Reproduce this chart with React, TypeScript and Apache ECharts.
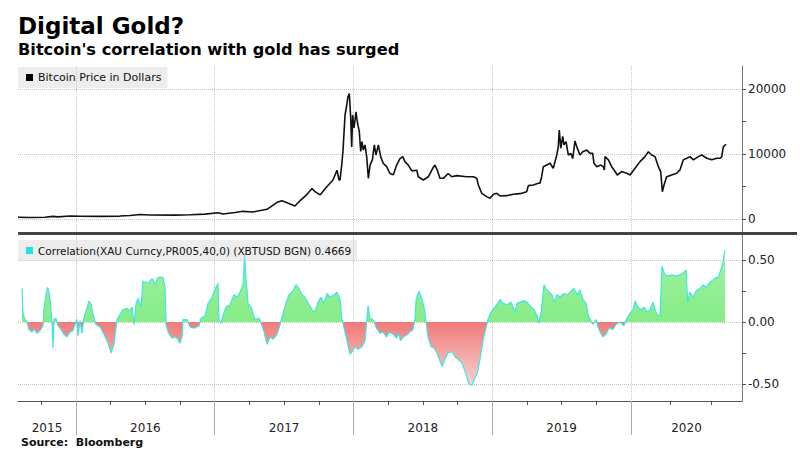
import React, { useEffect, useRef } from 'react';
import * as echarts from 'echarts';

// x values are decimal years
const X_MIN = 2015.582;
const X_MAX = 2020.8;

const yearBoundaries = [2016, 2017, 2018, 2019, 2020];
const quarterTicks = [2015.75, 2016.25, 2016.5, 2016.75, 2017.25, 2017.5, 2017.75, 2018.25, 2018.5, 2018.75, 2019.25, 2019.5, 2019.75, 2020.28, 2020.58];
const yearLabels = [2015, 2016, 2017, 2018, 2019, 2020];

const priceTicks = [0, 10000, 20000];
const priceMinorTicks = [5000, 15000];
const corrTicks = [-0.5, 0, 0.5];
const corrMinorTicks = [-0.25, 0.25];

const PRICE_NAME = 'Bitcoin Price in Dollars';
const CORR_NAME = 'Correlation(XAU Curncy,PR005,40,0) (XBTUSD BGN) 0.4669';

const bitcoinPrice: [number, number][] = [
  [2015.582, 260], [2015.669, 230], [2015.777, 280], [2015.834, 400], [2015.870, 330], [2015.957, 450],
  [2016.029, 420], [2016.173, 400], [2016.317, 450], [2016.389, 530], [2016.461, 700], [2016.533, 620],
  [2016.714, 600], [2016.822, 650], [2016.930, 750], [2017.023, 970], [2017.059, 780], [2017.146, 1000],
  [2017.204, 1180], [2017.276, 1080], [2017.377, 1490], [2017.449, 2560], [2017.485, 2820], [2017.521, 2510],
  [2017.578, 2000], [2017.614, 2800], [2017.665, 3800], [2017.701, 4700], [2017.723, 4200], [2017.759, 3700],
  [2017.809, 5000], [2017.852, 6000], [2017.881, 7500], [2017.896, 6000], [2017.903, 6000], [2017.915, 8300],
  [2017.924, 10400], [2017.939, 16000], [2017.951, 17500], [2017.960, 18800], [2017.970, 19300], [2017.980, 15500],
  [2017.987, 11100], [2017.994, 16000], [2018.004, 14000], [2018.018, 16500], [2018.027, 15000], [2018.042, 13400],
  [2018.052, 10400], [2018.061, 11900], [2018.071, 10600], [2018.083, 11400], [2018.095, 9600], [2018.107, 6260],
  [2018.119, 8300], [2018.136, 9100], [2018.150, 11400], [2018.162, 9850], [2018.179, 11400], [2018.196, 9600],
  [2018.215, 8550], [2018.239, 8050], [2018.263, 7000], [2018.287, 6800], [2018.311, 8300], [2018.335, 9300],
  [2018.355, 9600], [2018.371, 8800], [2018.395, 8300], [2018.420, 7400], [2018.456, 7500], [2018.467, 6500],
  [2018.503, 6000], [2018.539, 6500], [2018.571, 7800], [2018.587, 8300], [2018.604, 7500], [2018.623, 6260],
  [2018.647, 6260], [2018.683, 7000], [2018.708, 6500], [2018.744, 6670], [2018.816, 6500], [2018.864, 6500],
  [2018.888, 6260], [2018.900, 5230], [2018.924, 3950], [2018.960, 3440], [2018.984, 3180], [2019.008, 3800],
  [2019.032, 3950], [2019.056, 3540], [2019.104, 3590], [2019.152, 3800], [2019.200, 3900], [2019.248, 4200],
  [2019.260, 5130], [2019.296, 5230], [2019.332, 5500], [2019.344, 5500], [2019.356, 6500], [2019.368, 8050],
  [2019.393, 8300], [2019.416, 8570], [2019.440, 7800], [2019.465, 9850], [2019.476, 11100], [2019.483, 13700],
  [2019.494, 10900], [2019.508, 12700], [2019.517, 11400], [2019.532, 11900], [2019.548, 9850], [2019.566, 10100],
  [2019.580, 9300], [2019.596, 12000], [2019.613, 10900], [2019.632, 9850], [2019.652, 10350], [2019.681, 10600],
  [2019.705, 10100], [2019.724, 10100], [2019.733, 8570], [2019.753, 8050], [2019.782, 8300], [2019.800, 8050],
  [2019.808, 7550], [2019.813, 9600], [2019.837, 9100], [2019.861, 8050], [2019.885, 7300], [2019.901, 6770],
  [2019.933, 7300], [2019.969, 7030], [2019.993, 6770], [2020.029, 7800], [2020.065, 8830], [2020.101, 9600],
  [2020.125, 10350], [2020.149, 9850], [2020.173, 9600], [2020.197, 8050], [2020.214, 7300], [2020.226, 4200],
  [2020.238, 5230], [2020.257, 6500], [2020.293, 6770], [2020.329, 7030], [2020.353, 7550], [2020.377, 9100],
  [2020.402, 9350], [2020.425, 9600], [2020.449, 9100], [2020.485, 9600], [2020.510, 9850], [2020.546, 9350],
  [2020.582, 9100], [2020.618, 9350], [2020.642, 9350], [2020.654, 9600], [2020.665, 11100], [2020.685, 11500],
];

const correlation: [number, number][] = [
  [2015.611, 0.27], [2015.618, 0.07], [2015.632, 0.02], [2015.647, 0.00], [2015.661, -0.06], [2015.683, -0.08],
  [2015.697, -0.06], [2015.719, -0.09], [2015.741, -0.07], [2015.762, -0.03], [2015.769, 0.10], [2015.784, 0.22],
  [2015.795, 0.28], [2015.805, 0.24], [2015.816, 0.15], [2015.827, 0.00], [2015.834, -0.21], [2015.841, 0.02],
  [2015.856, 0.03], [2015.870, -0.03], [2015.892, -0.06], [2015.913, -0.10], [2015.935, -0.12], [2015.957, -0.08],
  [2015.978, -0.07], [2015.993, -0.02], [2016.007, 0.02], [2016.014, -0.11], [2016.029, 0.01], [2016.043, -0.09],
  [2016.057, 0.03], [2016.072, 0.09], [2016.094, 0.17], [2016.108, 0.14], [2016.129, 0.03], [2016.144, -0.02],
  [2016.173, -0.04], [2016.202, -0.10], [2016.231, -0.17], [2016.252, -0.25], [2016.274, -0.18], [2016.288, -0.05],
  [2016.295, 0.02], [2016.317, 0.06], [2016.339, 0.10], [2016.367, 0.11], [2016.389, 0.09], [2016.404, 0.12],
  [2016.418, -0.02], [2016.433, 0.15], [2016.447, 0.19], [2016.469, 0.12], [2016.483, 0.33], [2016.519, 0.31],
  [2016.548, 0.35], [2016.570, 0.30], [2016.591, 0.36], [2016.627, 0.36], [2016.642, 0.28], [2016.649, -0.02],
  [2016.663, -0.08], [2016.692, -0.13], [2016.721, -0.12], [2016.750, -0.17], [2016.764, -0.12], [2016.771, 0.02],
  [2016.800, 0.02], [2016.822, -0.04], [2016.851, -0.05], [2016.887, -0.03], [2016.901, 0.03], [2016.930, 0.05],
  [2016.952, 0.15], [2016.980, 0.20], [2017.001, 0.26], [2017.023, 0.31], [2017.030, 0.02], [2017.045, -0.01],
  [2017.059, 0.05], [2017.081, 0.12], [2017.110, 0.14], [2017.139, 0.22], [2017.161, 0.20], [2017.182, 0.24],
  [2017.204, 0.30], [2017.215, 0.55], [2017.225, 0.35], [2017.240, 0.15], [2017.261, 0.12], [2017.290, 0.02],
  [2017.318, 0.03], [2017.336, -0.01], [2017.355, -0.08], [2017.377, -0.18], [2017.399, -0.12], [2017.420, -0.14],
  [2017.449, -0.10], [2017.471, -0.02], [2017.485, 0.04], [2017.507, 0.13], [2017.535, 0.22], [2017.564, 0.25],
  [2017.586, 0.30], [2017.607, 0.27], [2017.628, 0.22], [2017.650, 0.20], [2017.679, 0.14], [2017.701, 0.10],
  [2017.722, 0.08], [2017.744, 0.16], [2017.766, 0.20], [2017.787, 0.15], [2017.809, 0.23], [2017.831, 0.20],
  [2017.860, 0.22], [2017.881, 0.24], [2017.903, 0.18], [2017.917, 0.02], [2017.932, -0.05], [2017.953, -0.15],
  [2017.975, -0.26], [2017.989, -0.24], [2018.011, -0.20], [2018.032, -0.22], [2018.061, -0.20], [2018.083, -0.15],
  [2018.097, 0.03], [2018.105, 0.13], [2018.119, 0.03], [2018.141, 0.02], [2018.166, -0.05], [2018.191, -0.09],
  [2018.213, -0.08], [2018.238, -0.12], [2018.259, -0.08], [2018.288, -0.10], [2018.310, -0.13], [2018.324, -0.09],
  [2018.339, -0.15], [2018.360, -0.12], [2018.389, -0.10], [2018.407, -0.08], [2018.429, -0.06], [2018.443, 0.02],
  [2018.451, 0.18], [2018.472, 0.25], [2018.494, 0.18], [2018.508, 0.12], [2018.523, 0.00], [2018.537, -0.12],
  [2018.559, -0.20], [2018.580, -0.21], [2018.602, -0.25], [2018.638, -0.36], [2018.659, -0.30], [2018.681, -0.25],
  [2018.710, -0.24], [2018.731, -0.28], [2018.753, -0.30], [2018.782, -0.33], [2018.811, -0.42], [2018.832, -0.50],
  [2018.854, -0.51], [2018.875, -0.45], [2018.890, -0.42], [2018.912, -0.30], [2018.933, -0.15], [2018.955, -0.05],
  [2018.969, 0.02], [2018.991, 0.08], [2019.020, 0.12], [2019.056, 0.18], [2019.077, 0.15], [2019.106, 0.14],
  [2019.135, 0.16], [2019.164, 0.08], [2019.178, 0.15], [2019.200, 0.16], [2019.229, 0.17], [2019.250, 0.16],
  [2019.272, 0.13], [2019.301, 0.10], [2019.323, 0.05], [2019.337, -0.01], [2019.352, 0.08], [2019.373, 0.30],
  [2019.387, 0.27], [2019.409, 0.24], [2019.431, 0.22], [2019.445, 0.16], [2019.467, 0.22], [2019.488, 0.20],
  [2019.517, 0.23], [2019.546, 0.22], [2019.567, 0.25], [2019.589, 0.27], [2019.611, 0.22], [2019.632, 0.26],
  [2019.654, 0.18], [2019.676, 0.15], [2019.690, 0.06], [2019.705, 0.02], [2019.726, -0.02], [2019.748, 0.02],
  [2019.762, -0.04], [2019.777, -0.08], [2019.798, -0.12], [2019.820, -0.10], [2019.841, -0.05], [2019.870, -0.06],
  [2019.892, -0.02], [2019.921, 0.00], [2019.949, -0.03], [2019.971, 0.03], [2019.993, 0.07], [2020.015, 0.10],
  [2020.029, 0.17], [2020.051, 0.12], [2020.072, 0.10], [2020.094, 0.12], [2020.115, 0.08], [2020.137, 0.10],
  [2020.158, 0.16], [2020.180, 0.08], [2020.194, 0.05], [2020.209, 0.05], [2020.223, 0.45], [2020.245, 0.38],
  [2020.267, 0.37], [2020.296, 0.38], [2020.324, 0.37], [2020.353, 0.38], [2020.382, 0.40], [2020.397, 0.42],
  [2020.408, 0.16], [2020.425, 0.24], [2020.447, 0.20], [2020.469, 0.25], [2020.497, 0.27], [2020.519, 0.30],
  [2020.540, 0.28], [2020.569, 0.32], [2020.591, 0.34], [2020.613, 0.36], [2020.627, 0.35], [2020.641, 0.40],
  [2020.656, 0.45], [2020.663, 0.48], [2020.677, 0.58],
];

const FONT = '"DejaVu Sans", Verdana, sans-serif';
const GRID_LINE = { show: true, lineStyle: { color: '#c4c4c4', type: 'dotted' as const, width: 1 } };
const AXIS_LABEL = { fontSize: 12, color: '#222', fontFamily: FONT };

export default function App() {
  const ref = useRef<HTMLDivElement>(null);

  useEffect(() => {
    if (!ref.current) return;
    const chart = echarts.init(ref.current, undefined, { renderer: 'svg' });

    const labelPositions = yearLabels.map(
      (y) => (Math.max(y, X_MIN) + Math.min(y + 1, X_MAX)) / 2
    );
    const vals = correlation.map((d) => d[1]);
    const maxV = Math.max(...vals, 0);
    const minV = Math.min(...vals, 0);
    const zeroFrac = maxV / (maxV - minV);

    const areaGradient = new echarts.graphic.LinearGradient(0, 0, 0, 1, [
      { offset: 0, color: '#a2f2a2' },
      { offset: zeroFrac, color: '#86ec86' },
      { offset: zeroFrac, color: '#f07a7a' },
      { offset: 1, color: '#f9d3d3' },
    ]);

    const xBase = { type: 'value' as const, min: X_MIN, max: X_MAX };
    const legendBase = {
      left: 18,
      icon: 'rect',
      itemWidth: 7,
      itemHeight: 7,
      padding: [5, 6, 5, 8],
      backgroundColor: 'rgba(215,215,215,0.45)',
      selectedMode: false,
    };

    chart.setOption({
      animation: false,
      backgroundColor: '#fff',
      textStyle: { fontFamily: FONT },
      grid: [
        { left: 18, right: 58, top: 66, height: 166 },
        { left: 18, right: 58, top: 235, height: 166 },
      ],
      legend: [
        {
          ...legendBase,
          data: [{ name: PRICE_NAME, itemStyle: { color: '#000' } }],
          top: 67,
          textStyle: { fontSize: 11, color: '#111', fontFamily: FONT },
        },
        {
          ...legendBase,
          data: [{ name: CORR_NAME, itemStyle: { color: '#1fe3e3' } }],
          top: 240,
          textStyle: { fontSize: 10.5, color: '#111', fontFamily: FONT },
        },
      ],
      xAxis: [
        {
          ...xBase,
          gridIndex: 0,
          position: 'bottom',
          axisLine: { show: false, onZero: false },
          axisTick: { show: false, customValues: yearBoundaries },
          axisLabel: { show: false },
          splitLine: GRID_LINE,
        },
        {
          ...xBase,
          gridIndex: 1,
          position: 'bottom',
          axisLine: { show: true, onZero: false, lineStyle: { color: '#555', width: 1 } },
          axisTick: { show: true, customValues: yearBoundaries, length: 34, lineStyle: { color: '#aaa' } },
          axisLabel: {
            ...AXIS_LABEL,
            customValues: labelPositions,
            formatter: (v: number) => String(Math.floor(v)),
            margin: 21,
          },
          splitLine: GRID_LINE,
        },
        {
          ...xBase,
          gridIndex: 1,
          position: 'bottom',
          axisLine: { show: false, onZero: false },
          axisTick: { show: true, customValues: quarterTicks, length: 4, lineStyle: { color: '#555' } },
          axisLabel: { show: false },
          splitLine: { show: false },
        },
      ],
      yAxis: [
        {
          type: 'value',
          gridIndex: 0,
          position: 'right',
          min: -2000,
          max: 23540,
          axisLine: { show: true, onZero: false, lineStyle: { color: '#777' } },
          axisTick: { show: true, customValues: priceTicks, length: 4, lineStyle: { color: '#555' } },
          axisLabel: { ...AXIS_LABEL, customValues: priceTicks, margin: 6, formatter: (v: number) => String(v) },
          splitLine: GRID_LINE,
        },
        {
          type: 'value',
          gridIndex: 0,
          position: 'right',
          min: -2000,
          max: 23540,
          axisLine: { show: false, onZero: false },
          axisTick: { show: true, customValues: priceMinorTicks, length: 4, lineStyle: { color: '#555' } },
          axisLabel: { show: false },
          splitLine: { show: false },
        },
        {
          type: 'value',
          gridIndex: 1,
          position: 'right',
          min: -0.637,
          max: 0.7016,
          axisLine: { show: true, onZero: false, lineStyle: { color: '#777' } },
          axisTick: { show: true, customValues: corrTicks, length: 4, lineStyle: { color: '#555' } },
          axisLabel: {
            ...AXIS_LABEL,
            customValues: corrTicks,
            margin: 6,
            formatter: (v: number) => v.toFixed(2),
          },
          splitLine: GRID_LINE,
        },
        {
          type: 'value',
          gridIndex: 1,
          position: 'right',
          min: -0.637,
          max: 0.7016,
          axisLine: { show: false, onZero: false },
          axisTick: { show: true, customValues: corrMinorTicks, length: 4, lineStyle: { color: '#555' } },
          axisLabel: { show: false },
          splitLine: { show: false },
        },
      ],
      series: [
        {
          type: 'line',
          name: PRICE_NAME,
          xAxisIndex: 0,
          yAxisIndex: 0,
          data: bitcoinPrice,
          symbol: 'none',
          lineStyle: { color: '#111', width: 1.6 },
          itemStyle: { color: '#000' },
          z: 3,
        },
        {
          type: 'line',
          name: CORR_NAME,
          xAxisIndex: 1,
          yAxisIndex: 2,
          data: correlation,
          symbol: 'none',
          lineStyle: { color: '#3fe6df', width: 1.2 },
          itemStyle: { color: '#1fe3e3' },
          areaStyle: { color: areaGradient, opacity: 1 },
          z: 3,
        },
      ],
      graphic: [
        {
          type: 'text',
          left: 18,
          top: 14,
          style: { text: 'Digital Gold?', font: `bold 23px ${FONT}`, fill: '#000' },
        },
        {
          type: 'text',
          left: 18,
          top: 41,
          style: { text: "Bitcoin's correlation with gold has surged", font: `bold 16.2px ${FONT}`, fill: '#000' },
        },
        {
          type: 'rect',
          left: 18,
          top: 232,
          z: 10,
          shape: { width: 779, height: 3 },
          style: { fill: '#444' },
        },
        {
          type: 'text',
          left: 21,
          top: 437,
          style: { text: 'Source:  Bloomberg', font: `bold 11px ${FONT}`, fill: '#111' },
        },
      ],
    });

    return () => chart.dispose();
  }, []);

  return (
    <div
      ref={ref}
      style={{ position: 'fixed', left: 0, top: 0, width: 800, height: 453, background: '#fff' }}
    />
  );
}
